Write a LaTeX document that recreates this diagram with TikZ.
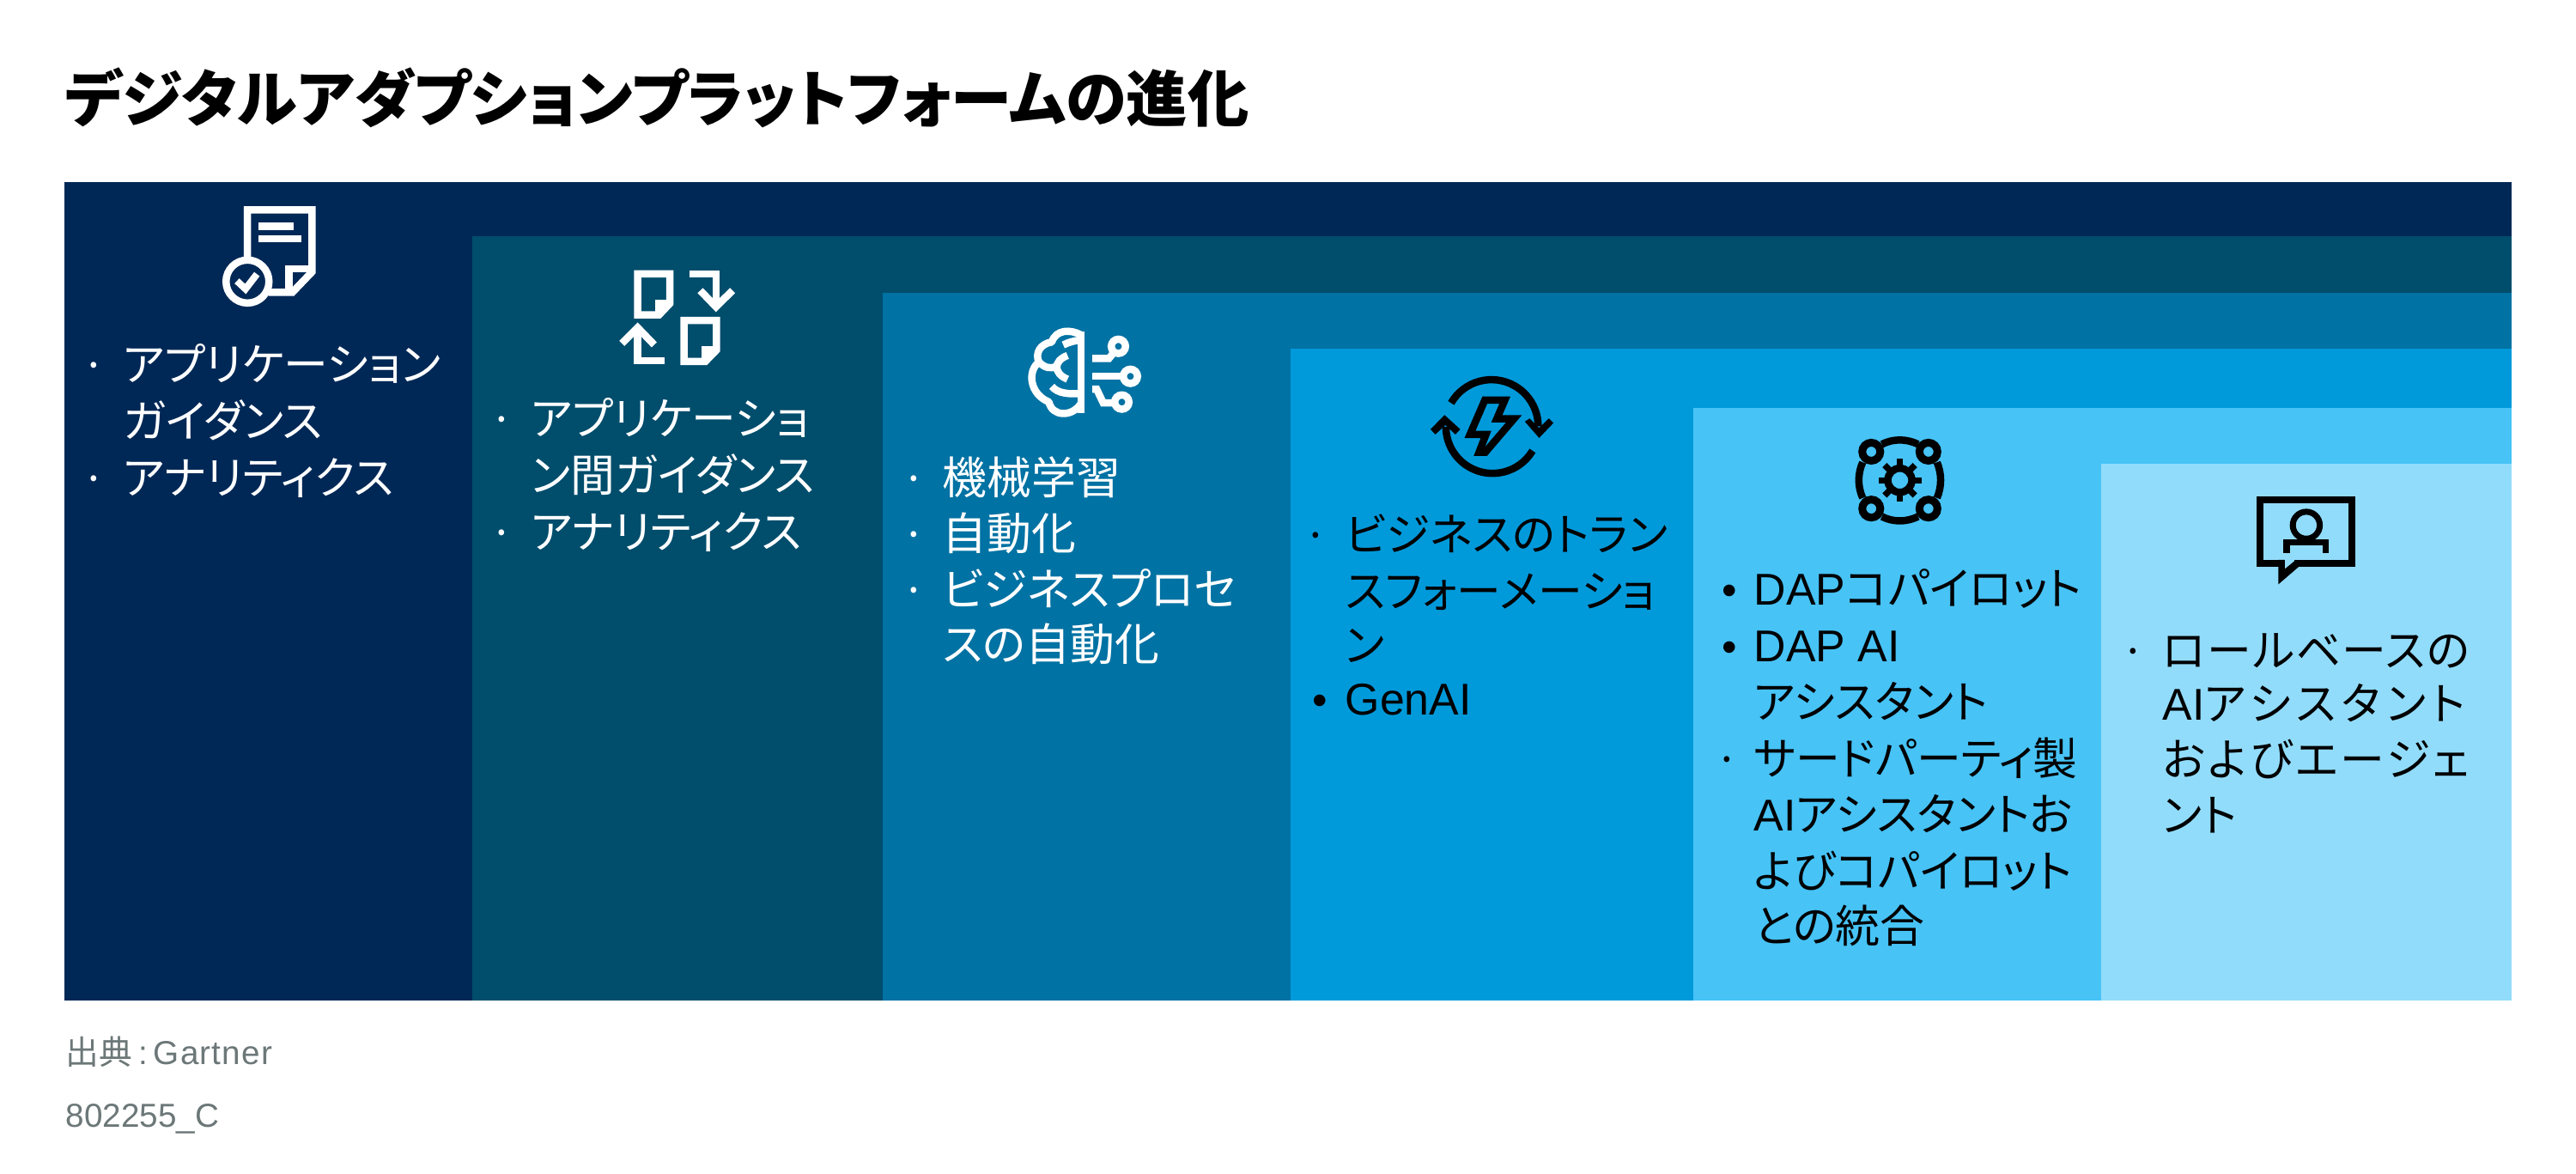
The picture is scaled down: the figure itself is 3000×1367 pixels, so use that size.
\documentclass[tikz,border=0pt]{standalone}
\usepackage{fontspec}
\setmainfont{Noto Sans CJK JP}[RawFeature=+palt]
\newfontfamily\lat{Liberation Sans}
\definecolor{panela}{HTML}{002856}
\definecolor{panelb}{HTML}{004D6C}
\definecolor{panelc}{HTML}{0072A3}
\definecolor{paneld}{HTML}{009ADB}
\definecolor{panele}{HTML}{47C3F6}
\definecolor{panelf}{HTML}{92DCFB}
\definecolor{footgray}{HTML}{6C7778}
\tikzset{
  itemtxt/.style={anchor=base west, inner sep=0pt, font=\fontsize{14.75pt}{17pt}\selectfont},
  dottxt/.style={anchor=base, inner sep=0pt, font=\fontsize{14.2pt}{17pt}\selectfont},
  foottxt/.style={anchor=base west, inner sep=0pt, text=footgray, font=\fontsize{11pt}{13pt}\selectfont},
  icostroke/.style={line width=#1*0.01cm, line join=miter},
}
\begin{document}
\begin{tikzpicture}[x=0.01cm,y=-0.01cm]
    \useasboundingbox (0,0) rectangle (3000,1367);

    % Title
    \node[anchor=base west, inner sep=0pt, font=\fontsize{20.3pt}{24pt}\selectfont\bfseries] (title) at (75,142) {デジタルアダプションプラットフォームの進化};

    % Panels
    \fill[panela] (75,212) rectangle (2925,1165);
    \fill[panelb] (550,275) rectangle (2925,1165);
    \fill[panelc] (1028,341) rectangle (2925,1165);
    \fill[paneld] (1503,406) rectangle (2925,1165);
    \fill[panele] (1972,475) rectangle (2925,1165);
    \fill[panelf] (2447,540) rectangle (2925,1165);

    % Panel 1 text
    \begin{scope}[text=white]
    \node[dottxt] (a1d) at (110,443) {·};
    \node[itemtxt] (a1) at (143,443) {アプリケーション};
    \node[itemtxt] (a2) at (143,509) {ガイダンス};
    \node[dottxt] (a3d) at (110,575) {·};
    \node[itemtxt] (a3) at (143,575) {アナリティクス};
    % Panel 2 text
    \node[dottxt] (b1d) at (584,506) {·};
    \node[itemtxt] (b1) at (618,506) {アプリケーショ};
    \node[itemtxt] (b2) at (618,572) {ン間ガイダンス};
    \node[dottxt] (b3d) at (584,638) {·};
    \node[itemtxt] (b3) at (618,638) {アナリティクス};
    % Panel 3 text
    \node[dottxt] (c1d) at (1064,575) {·};
    \node[itemtxt] (c1) at (1097,575) {機械学習};
    \node[dottxt] (c2d) at (1064,640) {·};
    \node[itemtxt] (c2) at (1097,640) {自動化};
    \node[dottxt] (c3d) at (1064,705) {·};
    \node[itemtxt] (c3) at (1097,705) {ビジネスプロセ};
    \node[itemtxt] (c4) at (1097,769) {スの自動化};
    \end{scope}

    % Panel 4 text
    \node[dottxt] (d1d) at (1532,641) {·};
    \node[itemtxt] (d1) at (1566,641) {ビジネスのトラン};
    \node[itemtxt] (d2) at (1566,707) {スフォーメーショ};
    \node[itemtxt] (d3) at (1566,770) {ン};
    \node[dottxt] (d4d) at (1537,832) {\lat •};
    \node[itemtxt] (d4) at (1566,832) {\lat GenAI};

    % Panel 5 text
    \node[dottxt] (e1d) at (2014,704) {\lat •};
    \node[itemtxt] (e1) at (2042,704) {{\lat DAP}コパイロット};
    \node[dottxt] (e2d) at (2014,770) {\lat •};
    \node[itemtxt] (e2) at (2042,770) {\lat DAP AI};
    \node[itemtxt] (e3) at (2042,836) {アシスタント};
    \node[dottxt] (e4d) at (2011,902) {·};
    \node[itemtxt] (e4) at (2042,902) {サードパーティ製};
    \node[itemtxt] (e5) at (2042,967) {{\lat AI}アシスタントお};
    \node[itemtxt] (e6) at (2042,1033) {よびコパイロット};
    \node[itemtxt] (e7) at (2042,1097) {との統合};

    % Panel 6 text
    \node[dottxt] (f1d) at (2484,776) {·};
    \node[itemtxt] (f1) at (2518,776) {\addfontfeature{LetterSpace=3}ロールベースの};
    \node[itemtxt] (f2) at (2518,838) {{\lat AI}\addfontfeature{LetterSpace=12}アシスタント};
    \node[itemtxt] (f3) at (2518,903) {\addfontfeature{LetterSpace=6}およびエージェ};
    \node[itemtxt] (f4) at (2518,968) {ント};

    % Footer
    \node[foottxt] (src) at (76,1239) {出典\kern2pt{\lat:\kern2pt\addfontfeature{LetterSpace=3}Gartner}};
    \node[foottxt] (code) at (76,1312) {\lat 802255\_C};

    % Icon 1, paper with tick
    \begin{scope}[shift={(230,220)},x=0.00333cm,y=-0.00333cm,white]
    \draw[icostroke=8.5] (175,240) -- (175,73) -- (401,73) -- (401,290) -- (332,362) -- (250,362);
    \draw[icostroke=8.5] (401,280) -- (320,280) -- (320,362);
    \fill (213,118) rectangle (338,143);
    \fill (213,163) rectangle (363,187);
    \draw[icostroke=8.5] (175,324) circle [radius=0.25cm];
    \draw[icostroke=8] (138,322) -- (168,350) -- (208,298);
    \end{scope}

    % Icon 2, two papers with arrows
    \begin{scope}[shift={(710,300)},x=0.00333cm,y=-0.00333cm,white]
    \draw[icostroke=8.5] (98,57) -- (211,57) -- (211,160) -- (173,200) -- (98,200) -- cycle;
    \draw[icostroke=8.5] (211,160) -- (172,160) -- (172,200);
    \draw[icostroke=8.5] (260,220) -- (374,220) -- (374,323) -- (335,363) -- (260,363) -- cycle;
    \draw[icostroke=8.5] (374,323) -- (335,323) -- (335,363);
    \draw[icostroke=8.5] (280,57) -- (372,57) -- (372,175);
    \draw[icostroke=8.5] (317,115) -- (372,172) -- (430,115);
    \draw[icostroke=8.5] (192,360) -- (98,360) -- (98,245);
    \draw[icostroke=8.5] (43,300) -- (98,245) -- (156,305);
    \end{scope}

    % Icon 3, brain
    \begin{scope}[shift={(1180,370)},x=0.00333cm,y=-0.00333cm,white,line cap=butt]
    \draw[icostroke=8.5] (237,48) -- (237,335);
    \draw[icostroke=8.5, line join=round] (237,60) .. controls (200,40) and (150,40) .. (135,85) .. controls (95,90) and (75,125) .. (90,155) .. controls (50,185) and (55,265) .. (125,295) .. controls (135,345) and (205,350) .. (237,300);
    \draw[icostroke=8.5] (175,95) .. controls (195,85) and (215,80) .. (237,78);
    \draw[icostroke=8.5] (90,155) .. controls (110,175) and (130,180) .. (150,170);
    \draw[icostroke=8.5] (190,132) .. controls (140,150) and (140,195) .. (190,215);
    \draw[icostroke=8.5] (135,240) .. controls (155,265) and (195,268) .. (237,265);
    \draw[icostroke=8.5] (277,142) -- (335,142) -- (355,118);
    \draw[icostroke=8.5] (368,100) circle [radius=0.083cm];
    \draw[icostroke=8.5] (277,205) -- (385,205);
    \draw[icostroke=8.5] (410,205) circle [radius=0.083cm];
    \draw[icostroke=8.5] (277,250) -- (292,250) -- (315,298) -- (355,298);
    \draw[icostroke=8.5] (380,295) circle [radius=0.083cm];
    \end{scope}

    % Icon 4, circular arrows with lightning
    \begin{scope}[shift={(1650,430)},x=0.00333cm,y=-0.00333cm,black]
    \draw[icostroke=8.5] (120,118) arc [start angle=150, end angle=0, radius=0.543cm];
    \fill (378,183) -- (395,172) -- (428,205) -- (462,172) -- (478,188) -- (428,240) -- cycle;
    \draw[icostroke=8.5] (405,285) arc [start angle=-31, end angle=-180, radius=0.543cm];
    \fill (48,210) -- (97,160) -- (152,210) -- (135,228) -- (100,195) -- (65,228) -- cycle;
    \draw[icostroke=8.5] (238,108) -- (308,108) -- (280,173) -- (340,173) -- (240,290) -- (218,290) -- (242,228) -- (186,228) -- cycle;
    \end{scope}

    % Icon 5, gear in ring
    \begin{scope}[shift={(2130,500)},x=0.00333cm,y=-0.00333cm,black]
    \foreach \cx/\cy in {148/78, 348/78, 148/277, 348/277}
      \draw[icostroke=9] (\cx,\cy) circle [radius=0.105cm];
    \draw[icostroke=8.5] (185,52) .. controls (225,32) and (270,32) .. (312,52);
    \draw[icostroke=8.5] (185,305) .. controls (225,325) and (270,325) .. (312,305);
    \draw[icostroke=8.5] (118,115) .. controls (100,155) and (100,200) .. (118,240);
    \draw[icostroke=8.5] (378,115) .. controls (395,155) and (395,200) .. (378,240);
    \draw[icostroke=8.5] (248,178) circle [radius=0.14cm];
    \foreach \a in {0,45,...,315}
      \draw[icostroke=7.3] (248,178) ++(\a:0.16cm) -- ++(\a:0.09cm);
    \end{scope}

    % Icon 6, speech bubble with person
    \begin{scope}[shift={(2600,560)},x=0.00333cm,y=-0.00333cm,black]
    \draw[icostroke=8] (172,288) -- (97,288) -- (97,67) -- (418,67) -- (418,288) -- (215,288);
    \fill (160,300) -- (160,362) -- (232,300) -- (222,276) -- (183,308) -- (183,276) -- (160,276) -- cycle;
    \draw[icostroke=7] (258,155) circle [radius=0.157cm];
    \draw[icostroke=7.3] (189,252) -- (189,215) -- (326,215) -- (326,252);
    \end{scope}
\end{tikzpicture}
\end{document}
